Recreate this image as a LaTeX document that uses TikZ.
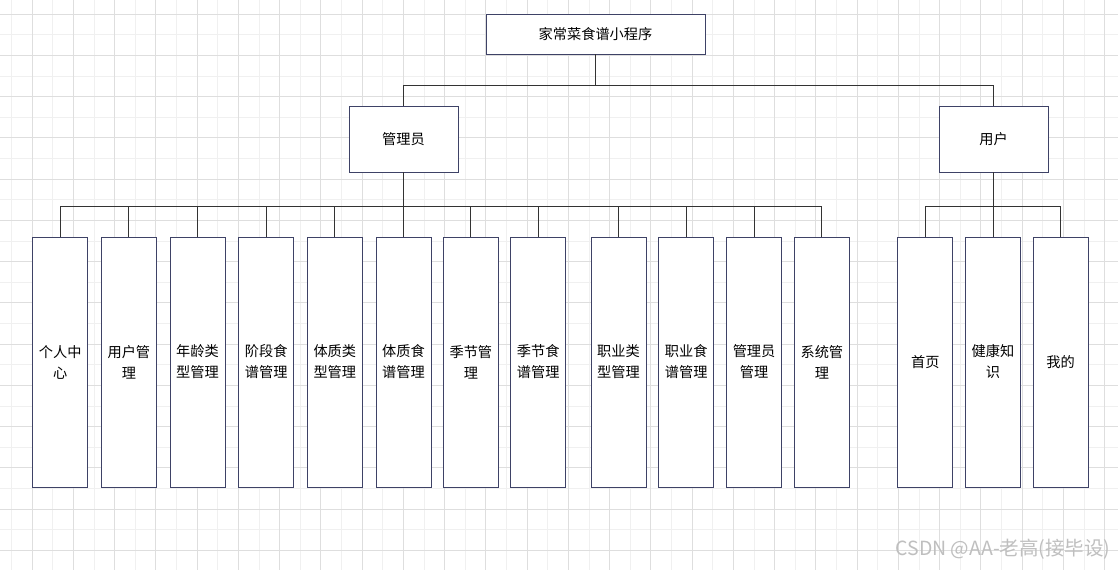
\documentclass[tikz,border=0pt]{standalone}
\usepackage{fontspec}
\setmainfont{Noto Sans CJK SC}
\usetikzlibrary{positioning}

\definecolor{boxline}{HTML}{3E4266}
\definecolor{linkline}{HTML}{333333}

\begin{document}
\begin{tikzpicture}[
  x=1pt, y=-1pt,
  box/.style={draw=boxline, line width=0.9pt, fill=white, font=\fontsize{14.2}{21}\selectfont, align=center, inner sep=0pt},
  top/.style={box, minimum width=219pt, minimum height=40pt},
  role/.style={box, minimum width=109pt, minimum height=66pt},
  leaf/.style={box, minimum width=55pt, minimum height=250pt},
  conn/.style={draw=linkline, line width=0.8pt},
  minorgrid/.style={draw=black!6, line width=0.8pt},
  majorgrid/.style={draw=black!13, line width=0.9pt},
  node distance=0pt and 12.75pt,
]
  \useasboundingbox (0,0) rectangle (1118,570);

  % Background grid
  \fill[white] (0,0) rectangle (1118,570);
  \foreach \i in {0,...,54} \draw[minorgrid] ({11.4+20.625*\i},0) -- ++(0,570);
  \foreach \i in {0,...,27} \draw[minorgrid] (0,{-6.6+20.625*\i}) -- ++(1118,0);
  \foreach \i in {0,...,26} \draw[majorgrid] ({32+41.25*\i},0) -- ++(0,570);
  \foreach \i in {0,...,13} \draw[majorgrid] (0,{14+41.25*\i}) -- ++(1118,0);

  % Top: app
  \node[top] (app) at (595.5,34) {家常菜食谱小程序};

  % Layer 1: roles
  \node[role] (admin) at (403.5,139) {管理员};
  \node[role] (user) at (993.5,139) {用户};

  % Layer 2: admin functions
  \node[leaf] (center) at (60.2,362) {个人中\\心};
  \node[leaf, right=of center] (users) {用户管\\理};
  \node[leaf, right=of users] (agetype) {年龄类\\型管理};
  \node[leaf, right=of agetype] (stagerec) {阶段食\\谱管理};
  \node[leaf, right=of stagerec] (bodytype) {体质类\\型管理};
  \node[leaf, right=of bodytype] (bodyrec) {体质食\\谱管理};
  \node[leaf, right=11.5pt of bodyrec] (season) {季节管\\理};
  \node[leaf, right=11.5pt of season] (seasonrec) {季节食\\谱管理};
  \node[leaf, right=24.3pt of seasonrec] (jobtype) {职业类\\型管理};
  \node[leaf, right=11.9pt of jobtype] (jobrec) {职业食\\谱管理};
  \node[leaf, right=11.9pt of jobrec] (admins) {管理员\\管理};
  \node[leaf, right=11.9pt of admins] (system) {系统管\\理};

  % Layer 2: user functions
  \node[leaf] (home) at (925.3,362) {首页};
  \node[leaf, right=11.7pt of home] (health) {健康知\\识};
  \node[leaf, right=11.7pt of health] (mine) {我的};

  % Edges from app
  \draw[conn] (app.south) -- ++(0,31) -| (admin.north);
  \draw[conn] (app.south) -- ++(0,31) -| (user.north);

  % Edges from roles
  \foreach \n in {center,users,agetype,stagerec,bodytype,bodyrec,season,seasonrec,jobtype,jobrec,admins,system}
    \draw[conn] (admin.south) -- ++(0,34) -| (\n.north);
  \foreach \n in {home,health,mine}
    \draw[conn] (user.south) -- ++(0,34) -| (\n.north);

  % Watermark
  \node[text=black!25, font=\fontsize{19.5}{22}\selectfont, anchor=east] (mark) at (1114,549) {CSDN @AA-老高(接毕设)};
\end{tikzpicture}
\end{document}
